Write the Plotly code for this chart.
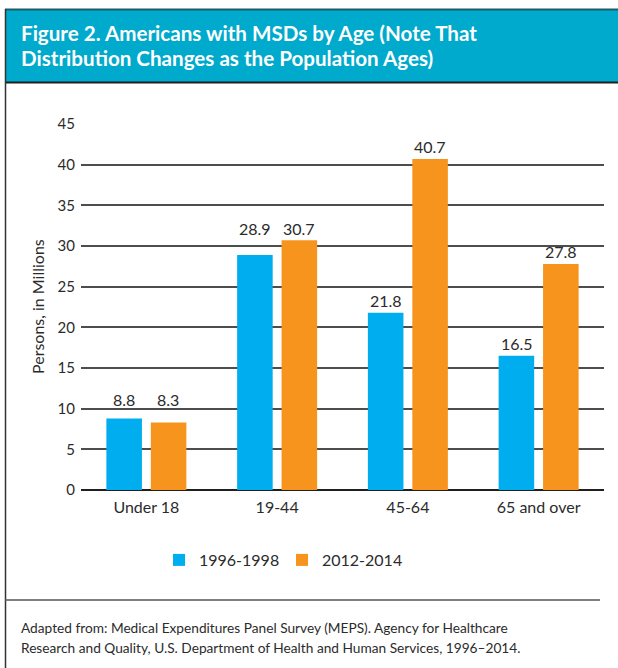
import plotly.graph_objects as go

categories = ["Under 18", "19-44", "45-64", "65 and over"]
series_names = ["1996-1998", "2012-2014"]
values_1996 = [8.8, 28.9, 21.8, 16.5]
values_2012 = [8.3, 30.7, 40.7, 27.8]
y_ticks = [0, 5, 10, 15, 20, 25, 30, 35, 40, 45]

W, H = 618, 668
L, R, T, B = 81, 604, 124, 490  # plot area in px
YMAX = 45
PPU = (B - T) / YMAX  # px per unit


def X(px):
    return (px - L) / (R - L)


def Y(py):
    return (B - py) / (B - T)


FONT = "Lato"
TXT = "#2b2b2b"
colors = ["#00AEEF", "#F7941E"]

fig = go.Figure()
for name, vals, col in zip(series_names, [values_1996, values_2012], colors):
    fig.add_trace(go.Bar(
        x=categories, y=vals, name=name,
        marker=dict(color=col, line=dict(width=0)),
    ))

shapes = [
    # title band
    dict(type="rect", xref="paper", yref="paper", x0=X(5), x1=X(620), y0=Y(10), y1=Y(82),
         fillcolor="#00AACC", line=dict(width=0), layer="below"),
    dict(type="line", xref="paper", yref="paper", x0=X(5), x1=X(620), y0=Y(9.5), y1=Y(9.5),
         line=dict(color="#1d5c68", width=2)),
    dict(type="line", xref="paper", yref="paper", x0=X(5), x1=X(620), y0=Y(82.5), y1=Y(82.5),
         line=dict(color="#1f1f1f", width=2)),
    # left border
    dict(type="line", xref="paper", yref="paper", x0=X(5.5), x1=X(5.5), y0=Y(9), y1=Y(670),
         line=dict(color="#333333", width=1.5)),
    # footer separator
    dict(type="line", xref="paper", yref="paper", x0=X(5), x1=X(600), y0=Y(600), y1=Y(600),
         line=dict(color="#555555", width=1.5)),
]

annotations = [
    dict(text="Figure 2. Americans with MSDs by Age (Note That", xref="paper", yref="paper",
         x=X(19), y=Y(33), xanchor="left", yanchor="middle", showarrow=False,
         font=dict(family=FONT, size=20.6, color="white", weight="bold")),
    dict(text="Distribution Changes as the Population Ages)", xref="paper", yref="paper",
         x=X(19), y=Y(58), xanchor="left", yanchor="middle", showarrow=False,
         font=dict(family=FONT, size=20.6, color="white", weight="bold")),
    dict(text="Persons, in Millions", xref="paper", yref="paper", x=X(37), y=Y(307),
         xanchor="center", yanchor="middle", textangle=-90, showarrow=False,
         font=dict(family=FONT, size=16, color=TXT)),
    dict(text="Adapted from: Medical Expenditures Panel Survey (MEPS). Agency for Healthcare",
         xref="paper", yref="paper", x=X(19), y=Y(627), xanchor="left", yanchor="middle",
         showarrow=False, font=dict(family=FONT, size=13.7, color=TXT)),
    dict(text="Research and Quality, U.S. Department of Health and Human Services, 1996–2014.",
         xref="paper", yref="paper", x=X(19), y=Y(647), xanchor="left", yanchor="middle",
         showarrow=False, font=dict(family=FONT, size=13.7, color=TXT)),
]

# value labels above bars: close pairs share a height, and labels are lifted off gridlines
GAP = 12   # px from bar top to label centre
HALF = 5   # half label height in px
for i, c in enumerate(categories):
    a, b = values_1996[i], values_2012[i]
    for v, other, shift in ((a, b, -22), (b, a, 22)):
        base = max(v, other) if abs(v - other) < 3 else v
        centre_px = base * PPU + GAP
        for t in y_ticks:
            gpx = t * PPU
            if centre_px - HALF < gpx < centre_px + HALF:
                centre_px = gpx + HALF + 4
        annotations.append(dict(
            text=f"{v:.1f}", x=c, y=v, xref="x", yref="y", xshift=shift,
            yshift=centre_px - v * PPU,
            xanchor="center", yanchor="middle", showarrow=False,
            font=dict(family=FONT, size=16, color=TXT)))

fig.update_layout(
    width=W, height=H,
    margin=dict(l=L, r=W - R, t=T, b=H - B, pad=0),
    paper_bgcolor="white", plot_bgcolor="white",
    barmode="group", bargap=0.32, bargroupgap=0.2,
    font=dict(family=FONT, color=TXT),
    showlegend=True,
    legend=dict(orientation="h", x=X(173 - 14), y=Y(560), xanchor="left", yanchor="middle",
                font=dict(family=FONT, size=16, color=TXT), entrywidth=78,
                bgcolor="rgba(0,0,0,0)", traceorder="normal"),
    xaxis=dict(showgrid=False, showline=False, ticks="", tickfont=dict(family=FONT, size=16, color=TXT),
               ticklabelstandoff=6),
    yaxis=dict(range=[0, YMAX], tickvals=y_ticks, showgrid=True, gridcolor="#4d4d4d", gridwidth=1.5,
               zeroline=True, zerolinecolor="#1f1f1f", zerolinewidth=2, showline=False, ticks="",
               tickfont=dict(family=FONT, size=15, color=TXT), ticklabelstandoff=5),
    shapes=shapes, annotations=annotations,
)

fig.write_html(
    "out.html",
    config={"displayModeBar": False},
    post_script="document.body.style.margin='0';document.body.style.overflow='hidden';",
)
